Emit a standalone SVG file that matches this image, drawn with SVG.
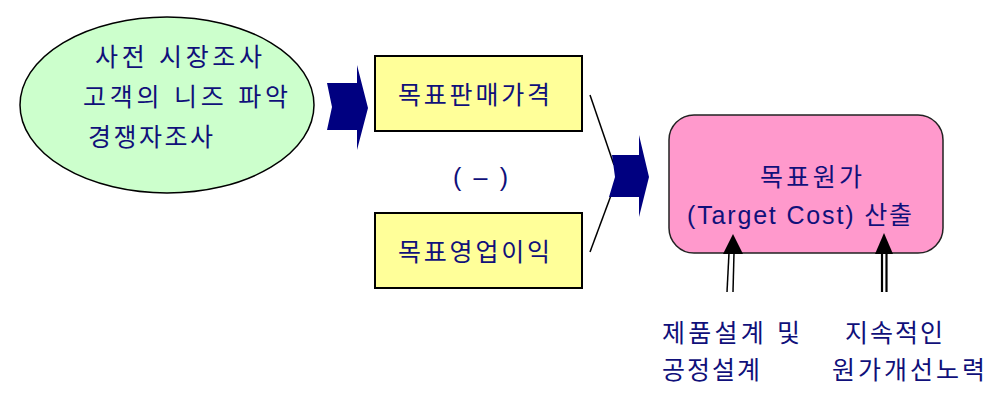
<svg xmlns="http://www.w3.org/2000/svg" width="997" height="402" viewBox="0 0 997 402">
<style>
text{font-family:"Liberation Sans","Noto Sans CJK KR",sans-serif;font-size:25px;fill:#10107a;}
.chev{fill:#000080;}
.ybox{fill:#ffff99;stroke:#000;stroke-width:2;}
</style>
<rect width="997" height="402" fill="#fff"/>
<g id="market">
<ellipse cx="167" cy="105" rx="147" ry="88" fill="#ccffcc" stroke="#000" stroke-width="1.5"/>
<text x="95" y="66" textLength="167" lengthAdjust="spacing">사전 시장조사</text>
<text x="83" y="106" textLength="205" lengthAdjust="spacing">고객의 니즈 파악</text>
<text x="88" y="146" textLength="125" lengthAdjust="spacing">경쟁자조사</text>
</g>
<g id="price">
<rect class="ybox" x="375" y="56" width="207" height="75"/>
<text x="398" y="104" textLength="152" lengthAdjust="spacing">목표판매가격</text>
</g>
<g id="minus">
<text x="453" y="186" textLength="55" lengthAdjust="spacing">( – )</text>
</g>
<g id="profit">
<rect class="ybox" x="375" y="213" width="207" height="75"/>
<text x="398" y="261" textLength="152" lengthAdjust="spacing">목표영업이익</text>
</g>
<g id="target">
<rect x="669" y="115" width="274" height="138" rx="25" ry="25" fill="#ff99cc" stroke="#222" stroke-width="1.5"/>
<text x="760" y="186" textLength="102" lengthAdjust="spacing">목표원가</text>
<text x="687" y="224" textLength="225" lengthAdjust="spacing">(Target Cost) 산출</text>
</g>
<g id="design">
<text x="662" y="342" textLength="138" lengthAdjust="spacing">제품설계 및</text>
<text x="662" y="379" textLength="98" lengthAdjust="spacing">공정설계</text>
</g>
<g id="kaizen">
<text x="845" y="342" textLength="98" lengthAdjust="spacing">지속적인</text>
<text x="832" y="379" textLength="153" lengthAdjust="spacing">원가개선노력</text>
</g>
<g id="connectors">
<path class="chev" d="M327,83 L357,83 L357,65 L368,108 L357,150 L357,130 L327,130 L332,107 Z"/>
<line x1="590" y1="95" x2="614" y2="165" stroke="#000" stroke-width="1.5"/>
<line x1="590" y1="252" x2="613" y2="190" stroke="#000" stroke-width="1.5"/>
<path class="chev" d="M612,155 L639,155 L639,135 L649,177 L639,217 L639,197 L609,197 L615,177 Z"/>
<line x1="729" y1="253" x2="727" y2="292" stroke="#000" stroke-width="1.5"/>
<line x1="734" y1="253" x2="733" y2="292" stroke="#000" stroke-width="1.5"/>
<path d="M733,234 L723,254 L743,254 Z" fill="#000"/>
<line x1="882" y1="253" x2="882" y2="292" stroke="#000" stroke-width="2.2"/>
<line x1="886.5" y1="253" x2="886.5" y2="292" stroke="#000" stroke-width="2.2"/>
<path d="M884,233 L875,254 L893,254 Z" fill="#000"/>
</g>
</svg>
